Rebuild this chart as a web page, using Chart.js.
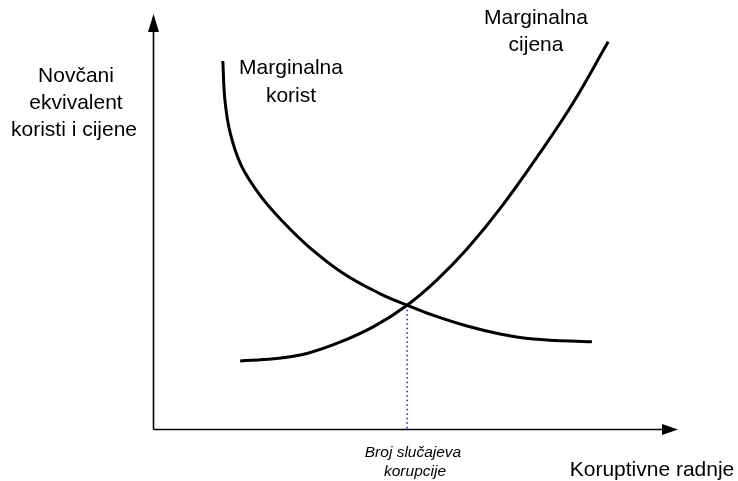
<!DOCTYPE html>
<html>
<head>
<meta charset="utf-8">
<script src="https://cdn.jsdelivr.net/npm/chart.js@4/dist/chart.umd.min.js"></script>
<style>
  html, body { margin: 0; padding: 0; background: #ffffff; }
  #wrap { width: 738px; height: 481px; }
</style>
</head>
<body>
<div id="wrap"><canvas id="c" width="738" height="481"></canvas></div>
<script>
// Marginal benefit curve ("Marginalna korist")
const benefitX = [13.3, 13.7, 14.7, 16.8, 20.4, 24.8, 29.9, 36.2, 43.2, 48.4, 53.3, 59.8, 66.1, 72.4, 83.6];
const benefitY = [88.7, 79.3, 71.4, 63.6, 56.4, 50.0, 43.8, 37.7, 32.8, 30.0, 27.6, 25.0, 23.1, 21.9, 21.2];
// Marginal cost curve ("Marginalna cijena")
const costX = [16.6, 22.9, 29.3, 35.6, 42.1, 48.4, 54.1, 59.8, 66.1, 73.7, 80.0, 86.7];
const costY = [16.6, 17.1, 18.4, 21.1, 24.9, 30.0, 36.1, 43.5, 53.2, 66.6, 78.6, 93.3];
// Equilibrium point
const equilibrium = [48.4, 30.0];

const yAxisTitle = ["Novčani", "ekvivalent", "koristi i cijene"];
const xAxisTitle = "Koruptivne radnje";
const benefitLabel = ["Marginalna", "korist"];
const costLabel = ["Marginalna", "cijena"];
const equilibriumLabel = ["Broj slučajeva", "korupcije"];

const toPts = (xs, ys) => xs.map((x, i) => ({ x: x, y: ys[i] }));

const diagramPlugin = {
  id: 'diagram',
  afterDatasetsDraw(chart) {
    const ctx = chart.ctx;
    const xs = chart.scales.x, ys = chart.scales.y;
    const x0 = Math.round(xs.getPixelForValue(0)) + 0.5;
    const y0 = Math.round(ys.getPixelForValue(0)) - 0.5;
    const xEnd = xs.getPixelForValue(100);
    const yEnd = ys.getPixelForValue(100);
    ctx.save();
    ctx.strokeStyle = '#000';
    ctx.fillStyle = '#000';
    ctx.lineWidth = 1.6;
    ctx.beginPath();
    ctx.moveTo(x0, y0);
    ctx.lineTo(x0, yEnd + 16);
    ctx.moveTo(x0, y0);
    ctx.lineTo(xEnd - 15, y0);
    ctx.stroke();
    // arrow heads
    ctx.beginPath();
    ctx.moveTo(x0, yEnd);
    ctx.lineTo(x0 - 5.5, yEnd + 18);
    ctx.lineTo(x0 + 5.5, yEnd + 18);
    ctx.closePath();
    ctx.fill();
    ctx.beginPath();
    ctx.moveTo(xEnd, y0);
    ctx.lineTo(xEnd - 16, y0 - 5.5);
    ctx.lineTo(xEnd - 16, y0 + 5.5);
    ctx.closePath();
    ctx.fill();

    // texts
    ctx.textAlign = 'center';
    ctx.textBaseline = 'middle';
    ctx.font = '21px "Liberation Sans", Arial, sans-serif';
    ctx.fillText(yAxisTitle[0], 76, 76);
    ctx.fillText(yAxisTitle[1], 76, 103);
    ctx.fillText(yAxisTitle[2], 74, 130);
    ctx.fillText(benefitLabel[0], 291, 68);
    ctx.fillText(benefitLabel[1], 291, 96);
    ctx.fillText(costLabel[0], 536, 18);
    ctx.fillText(costLabel[1], 536, 45);
    ctx.fillText(xAxisTitle, 652, 470);
    ctx.font = 'italic 15.5px "Liberation Sans", Arial, sans-serif';
    ctx.fillText(equilibriumLabel[0], 413, 453);
    ctx.fillText(equilibriumLabel[1], 415, 472);
    ctx.restore();
  }
};

new Chart(document.getElementById('c'), {
  type: 'scatter',
  data: {
    datasets: [
      {
        label: 'Marginalna korist',
        data: toPts(benefitX, benefitY),
        showLine: true,
        borderColor: '#000',
        borderWidth: 3,
        pointRadius: 0,
        tension: 0.4,
        fill: false
      },
      {
        label: 'Marginalna cijena',
        data: toPts(costX, costY),
        showLine: true,
        borderColor: '#000',
        borderWidth: 3,
        pointRadius: 0,
        tension: 0.4,
        fill: false
      },
      {
        label: 'Ravnoteža',
        data: [{ x: equilibrium[0], y: equilibrium[1] }, { x: equilibrium[0], y: 0 }],
        showLine: true,
        borderColor: '#1010ff',
        borderWidth: 1.5,
        borderDash: [1.5, 3],
        pointRadius: 0,
        fill: false
      }
    ]
  },
  options: {
    responsive: false,
    animation: false,
    layout: { padding: { left: 153, right: 60, top: 14, bottom: 51 } },
    plugins: { legend: { display: false }, tooltip: { enabled: false } },
    scales: {
      x: { type: 'linear', min: 0, max: 100, display: false },
      y: { type: 'linear', min: 0, max: 100, display: false }
    },
    elements: { line: { borderCapStyle: 'butt' } }
  },
  plugins: [diagramPlugin]
});
</script>
</body>
</html>
